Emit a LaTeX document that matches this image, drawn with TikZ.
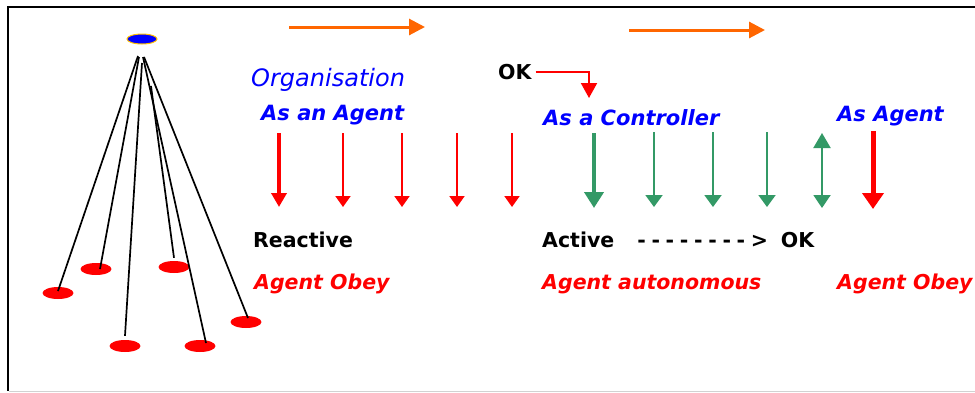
\documentclass[tikz,border=0pt]{standalone}
\usepackage{fontspec}
\setmainfont{DejaVu Sans}
\usetikzlibrary{arrows.meta, shapes.geometric}
\usepackage{xcolor}
\definecolor{orgBlue}{RGB}{0,0,255}
\definecolor{obeyRed}{RGB}{255,0,0}
\definecolor{ctrlGreen}{RGB}{51,153,102}
\definecolor{flowOrange}{RGB}{255,102,0}
\definecolor{rimGold}{RGB}{255,192,0}
\newcommand{\titlefont}{\fontsize{24pt}{28pt}\selectfont\itshape}
\newcommand{\rolefont}{\fontsize{21pt}{25pt}\selectfont\bfseries\itshape}
\newcommand{\statefont}{\fontsize{20.5pt}{24pt}\selectfont\bfseries}
\newcommand{\dashrun}{\foreach \k in {1,...,8}{\makebox[14.2pt][l]{-}}}

\begin{document}
\begin{tikzpicture}[
    x=1pt, y=-1pt,
    title/.style={anchor=base west, inner sep=0pt, text=orgBlue, font=\titlefont},
    role/.style={anchor=base west, inner sep=0pt, text=orgBlue, font=\rolefont},
    state/.style={anchor=base west, inner sep=0pt, font=\statefont},
    mode/.style={anchor=base west, inner sep=0pt, text=obeyRed, font=\statefont\itshape},
    hub/.style={ellipse, fill=orgBlue, draw=rimGold, line width=1pt, minimum width=30pt, minimum height=10pt, inner sep=0pt},
    agent/.style={ellipse, fill=obeyRed, minimum width=31pt, minimum height=12pt, inner sep=0pt},
    flow/.style={-{Triangle[width=16pt,length=16pt]}, draw=flowOrange, line width=3pt},
    obey/.style={-{Triangle[width=15pt,length=11pt]}, draw=obeyRed, line width=2pt},
    ctrl/.style={-{Triangle[width=17pt,length=12pt]}, draw=ctrlGreen, line width=2pt}
]
\useasboundingbox (0,0) rectangle (975,392);

% frame
\draw[line width=2pt] (975,7) -- (8,7) -- (8,391);
\draw[gray!35, line width=1pt] (9,391) -- (975,391);

% organisation tree
\node[hub] (org) at (142,39) {};
\foreach \i/\x/\y in {1/58/293, 2/96/269, 3/174/267, 4/125/346, 5/200/346, 6/246/322}
    \node[agent] (a\i) at (\x,\y) {};
\coordinate (h1) at (138,56);
\coordinate (h2) at (139,57);
\coordinate (h3) at (151,86);
\coordinate (h4) at (142,63);
\coordinate (h5) at (143,57);
\coordinate (h6) at (144,57);
\draw[line width=1.7pt] (h1) -- ([yshift=2pt]a1.center);
\draw[line width=1.7pt] (h2) -- ([xshift=4pt]a2.center);
\draw[line width=1.7pt] (h3) -- ([yshift=3pt]a3.north);
\draw[line width=1.7pt] (h4) -- ([yshift=4pt]a4.north);
\draw[line width=1.7pt] (h5) -- ([xshift=6pt,yshift=3pt]a5.center);
\draw[line width=1.7pt] (h6) -- ([xshift=2pt,yshift=4pt]a6.center);

% time flow
\draw[flow] (289,27) -- (425,27);
\draw[flow] (629,30) -- (765,30);

% labels above
\node[title] (orgname) at (251,86) {Organisation};
\node[role] (asagent) at (261,120) {As an Agent};
\node[state] (ok) at (498,79) {OK};
\node[role] (asctrl) at (543,125) {As a Controller};
\node[role] (asagent2) at (837,121) {As Agent};

\coordinate (okdrop) at (589,98);
\draw[obey, -{Triangle[width=16pt,length=15pt]}, shorten <=4pt] (ok.east) -| (okdrop);

% orders going down
\draw[obey, line width=3.5pt, -{Triangle[width=15pt,length=14pt]}] (279,133) -- (279,207);
\foreach \x in {343,402,457,512}
    \draw[obey] (\x,133) -- (\x,207);
\draw[ctrl, line width=4.3pt, -{Triangle[width=19pt,length=16pt]}] (594,133) -- (594,208);
\foreach \x in {654,713,767}
    \draw[ctrl] (\x,132) -- (\x,207);
\draw[ctrl, {Triangle[width=17pt,length=15pt]}-{Triangle[width=17pt,length=13pt]}] (822,133) -- (822,208);
\draw[obey, line width=5pt, -{Triangle[width=21pt,length=16pt]}] (873,131) -- (873,209);

% states below
\node[state] (reactive) at (253,247) {Reactive};
\node[mode] (obey1) at (254,289) {Agent Obey};
\node[state] (active) at (542,247) {Active\hspace{23pt}\dashrun\makebox[30pt][l]{>}OK};
\node[mode] (auto) at (542,289) {Agent autonomous};
\node[mode] (obey2) at (837,289) {Agent Obey};
\end{tikzpicture}
\end{document}
